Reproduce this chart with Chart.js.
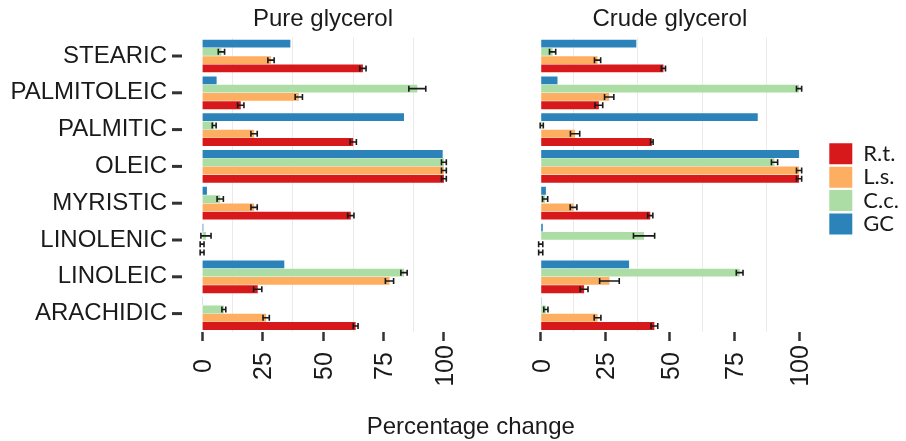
<!DOCTYPE html>
<html>
<head>
<meta charset="utf-8">
<script src="https://cdn.jsdelivr.net/npm/chart.js@4/dist/chart.umd.min.js"></script>
<style>
  html, body { margin: 0; padding: 0; background: #fff; }
  #wrap { position: relative; width: 906px; height: 441px; overflow: hidden; }
  #left { position: absolute; left: 0; top: 0; }
  #right { position: absolute; left: 470px; top: 0; }
  #xtitle {
    position: absolute; left: 470.8px; top: 414px; transform: translateX(-50%);
    font: 24px 'Liberation Sans', Arial, sans-serif; line-height: 24px;
    color: #1a1a1a; white-space: nowrap;
  }
</style>
</head>
<body>
<div id="wrap">
  <canvas id="left" width="470" height="441"></canvas>
  <canvas id="right" width="436" height="441"></canvas>
  <div id="xtitle">Percentage change</div>
</div>
<script>
// ---- data ----
const acids = ['STEARIC', 'PALMITOLEIC', 'PALMITIC', 'OLEIC', 'MYRISTIC', 'LINOLENIC', 'LINOLEIC', 'ARACHIDIC'];
const seriesNames = ['GC', 'C.c.', 'L.s.', 'R.t.'];
const seriesColors = ['#2b83ba', '#abdda4', '#fdae61', '#d7191c'];

// Pure glycerol
const pureGC = [36.5, 6, 83.5, 99.5, 2, 0.5, 34, 0.3];
const pureCc = [8, 89, 5, 100, 7.5, 1.6, 83.5, 9];
const pureLs = [28.5, 40, 21.5, 100, 21.5, 0, 77.5, 26.5];
const pureRt = [66.5, 16, 62.5, 100, 61.5, 0, 23, 63.5];
const pureCcErr = [1.3, 3.5, 0.8, 1, 1.3, 2.1, 1.3, 0.8];
const pureLsErr = [1.3, 1.5, 1.3, 1, 1.3, 0.8, 1.7, 1.3];
const pureRtErr = [1.3, 1.3, 1.3, 1, 1.3, 0.8, 1.7, 1];

// Crude glycerol
const crudeGC = [37, 6.5, 84, 100, 2, 0.8, 34.2, 0.3];
const crudeCc = [4.6, 100, 0.4, 90.5, 1.7, 40, 77, 2];
const crudeLs = [22, 26.5, 13.3, 100, 12.7, 0, 26.6, 22];
const crudeRt = [47.5, 22.5, 43, 100, 42.4, 0, 16.8, 44];
const crudeCcErr = [1.2, 1, 0.6, 1.2, 1, 4.1, 1.3, 0.8];
const crudeLsErr = [1.2, 1.8, 1.8, 1, 1.3, 0.8, 3.8, 1.3];
const crudeRtErr = [0.8, 1.5, 0.5, 1, 1, 0.8, 1.5, 1.3];

const xTickValues = [0, 25, 50, 75, 100];
const xTickLabels = ['0', '25', '50', '75', '100'];
const xMinorValues = [12.5, 37.5, 62.5, 87.5];

const FONT = "'Liberation Sans', Arial, sans-serif";
const INK = '#1a1a1a';

// ---- panel decorations: error bars, titles, rotated tick labels, y tick marks ----
const facetDecor = {
  id: 'facetDecor',
  afterDatasetsDraw(chart) {
    const ctx = chart.ctx;
    const xs = chart.scales.x;
    ctx.save();
    ctx.strokeStyle = INK;
    ctx.lineWidth = 1.6;
    chart.data.datasets.forEach((ds, i) => {
      if (!ds.errors) return;
      chart.getDatasetMeta(i).data.forEach((bar, j) => {
        const v = ds.data[j], e = ds.errors[j];
        const x1 = xs.getPixelForValue(v - e);
        const x2 = xs.getPixelForValue(v + e);
        ctx.beginPath();
        ctx.moveTo(x1, bar.y); ctx.lineTo(x2, bar.y);
        ctx.moveTo(x1, bar.y - 3); ctx.lineTo(x1, bar.y + 3);
        ctx.moveTo(x2, bar.y - 3); ctx.lineTo(x2, bar.y + 3);
        ctx.stroke();
      });
    });
    ctx.restore();
  },
  afterDraw(chart, args, opts) {
    const ctx = chart.ctx;
    const area = chart.chartArea;
    const xs = chart.scales.x;
    ctx.save();
    ctx.fillStyle = INK;

    // panel title
    ctx.font = '24px ' + FONT;
    ctx.textAlign = 'center';
    ctx.textBaseline = 'alphabetic';
    ctx.fillText(opts.title, (area.left + area.right) / 2, 26);

    // x tick labels, rotated and centred on the tick
    const size = 25;
    ctx.font = size + 'px ' + FONT;
    xTickValues.forEach((v, i) => {
      ctx.save();
      ctx.translate(xs.getPixelForValue(v), 366);
      ctx.rotate(-Math.PI / 2);
      ctx.textAlign = 'center';
      ctx.fillText(xTickLabels[i], 0, size * 0.716 / 2);
      ctx.restore();
    });

    // y tick marks (left panel only)
    if (opts.yTicks) {
      const ys = chart.scales.y;
      ctx.strokeStyle = '#333';
      ctx.lineWidth = 3;
      ys.ticks.forEach((t, i) => {
        const y = ys.getPixelForTick(i);
        ctx.beginPath();
        ctx.moveTo(area.left - 18, y);
        ctx.lineTo(area.left - 8, y);
        ctx.stroke();
      });
    }
    ctx.restore();
  }
};

function isMajor(ctx) {
  return ctx.tick && xTickValues.includes(ctx.tick.value);
}

function makePanel(canvasId, title, gc, cc, ls, rt, ccErr, lsErr, rtErr, isLeft) {
  const values = [gc, cc, ls, rt];
  const errs = [null, ccErr, lsErr, rtErr];
  const datasets = seriesNames.map((name, i) => ({
    label: name,
    data: values[i],
    errors: errs[i],
    backgroundColor: seriesColors[i],
    borderWidth: 0,
    categoryPercentage: 0.9,
    barPercentage: 0.95,
  }));

  const yScale = isLeft ? {
    type: 'category',
    position: 'left',
    ticks: { font: { family: FONT, size: 24 }, color: INK, padding: 15, autoSkip: false },
    grid: { display: false },
    border: { display: false },
    afterFit: s => { s.width = 190; }
  } : {
    type: 'category',
    position: 'right',
    ticks: { display: false },
    grid: { display: false },
    border: { display: false },
    afterFit: s => { s.width = 15.9; }
  };

  return new Chart(document.getElementById(canvasId), {
    type: 'bar',
    data: { labels: acids, datasets },
    plugins: [facetDecor],
    options: {
      indexAxis: 'y',
      responsive: false,
      animation: false,
      layout: {
        padding: isLeft
          ? { top: 37.6, right: 14, left: 0, bottom: 0 }
          : { top: 37.6, right: 4.1, left: 57.8, bottom: 0 }
      },
      scales: {
        x: {
          type: 'linear',
          min: -5,
          max: 105,
          afterBuildTicks: s => {
            s.ticks = xTickValues.concat(xMinorValues).sort((a, b) => a - b).map(v => ({ value: v }));
          },
          ticks: { display: false },
          grid: {
            color: ctx => isMajor(ctx) ? 'rgba(0,0,0,0)' : '#ebebeb',
            lineWidth: 1,
            tickColor: ctx => isMajor(ctx) ? '#333' : 'rgba(0,0,0,0)',
            tickLength: 9,
            tickWidth: 2.5
          },
          border: { display: false },
          afterFit: s => { s.height = 109; }
        },
        y: yScale
      },
      plugins: {
        tooltip: { enabled: false },
        facetDecor: { title, yTicks: isLeft },
        legend: isLeft ? { display: false } : {
          display: true,
          position: 'right',
          fullSize: false,
          reverse: true,
          maxWidth: 74,
          title: { display: true, text: '', padding: 3.5, font: { size: 1 } },
          labels: {
            boxWidth: 23,
            boxHeight: 21,
            padding: 1.4,
            color: INK,
            font: { family: 'Lato', size: 22 }
          }
        }
      }
    }
  });
}

makePanel('left', 'Pure glycerol', pureGC, pureCc, pureLs, pureRt, pureCcErr, pureLsErr, pureRtErr, true);
makePanel('right', 'Crude glycerol', crudeGC, crudeCc, crudeLs, crudeRt, crudeCcErr, crudeLsErr, crudeRtErr, false);
</script>
</body>
</html>
